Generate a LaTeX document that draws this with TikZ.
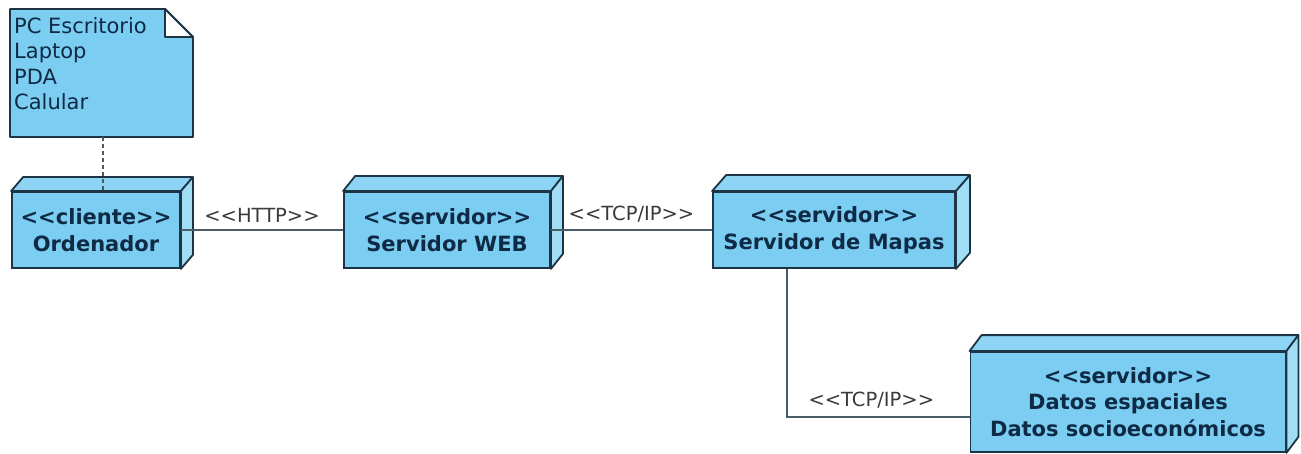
\documentclass[tikz,border=0pt]{standalone}
\usepackage{fontspec}
\setmainfont{DejaVu Sans}[Ligatures=TeXOff]
\usetikzlibrary{calc,backgrounds}

\definecolor{nodefront}{HTML}{7CCDF2}
\definecolor{nodetop}{HTML}{8ED4F4}
\definecolor{nodeside}{HTML}{A2DDF6}
\definecolor{edgeline}{HTML}{1C3444}
\definecolor{nodetext}{HTML}{0E2A44}
\definecolor{labeltext}{HTML}{3A3A3A}

\tikzset{
  devbox/.style={draw=edgeline, fill=nodefront, line width=1.8pt,
    align=center, inner sep=0pt, text=nodetext,
    font=\fontsize{21}{26.5}\selectfont\bfseries},
  devface/.style={draw=edgeline, line width=1.8pt, line join=round},
  notebox/.style={anchor=north west, align=left, inner sep=0pt,
    text=nodetext, font=\fontsize{21}{25.5}\selectfont},
  link/.style={draw=edgeline!80, line width=1.1pt},
  linklabel/.style={text=labeltext, font=\fontsize{19.5}{23}\selectfont, inner sep=2pt},
}

% draws the top and right faces of a 3D device node
\newcommand{\devdepth}[3]{%
  \path[devface, fill=nodetop] (#1.north west) -- ++(#2,-#3)
    -- ($(#1.north east)+(#2,-#3)$) -- (#1.north east) -- cycle;
  \path[devface, fill=nodeside] (#1.north east) -- ++(#2,-#3)
    -- ($(#1.south east)+(#2,-#3)$) -- (#1.south east) -- cycle;
}

\begin{document}
\begin{tikzpicture}[x=1pt, y=-1pt]
  \useasboundingbox (0,0) rectangle (1301,454);

  % note with the client devices
  \node[notebox] (note) at (14,17)
    {PC Escritorio\\Laptop\\PDA\\Calular};
  \coordinate (nnw) at (10,9);
  \coordinate (nse) at (193,137);
  \begin{scope}[on background layer]
    \path[devface, fill=nodefront] (nnw) -- (165,9) -- (193,37) -- (nse)
      -- (10,137) -- cycle;
    \path[devface, fill=white] (165,9) -- (165,37) -- (193,37) -- cycle;
  \end{scope}
  \coordinate (notefoot) at (103,137);

  % deployment nodes
  \node[devbox, minimum width=168pt, minimum height=76pt] (ord) at (96,230)
    {<<cliente>>\\Ordenador};
  \node[devbox, minimum width=206pt, minimum height=76pt] (web) at (447,230)
    {<<servidor>>\\Servidor WEB};
  \node[devbox, minimum width=242pt, minimum height=76pt] (map) at (834,230)
    {<<servidor>>\\Servidor de Mapas};
  \node[devbox, minimum width=315pt, minimum height=100pt] (dat) at (1128,402)
    {<<servidor>>\\Datos espaciales\\Datos socioeconómicos};

  \devdepth{ord}{12}{14}
  \devdepth{web}{12}{15}
  \devdepth{map}{14}{16}
  \devdepth{dat}{12}{16}

  % connectors
  \draw[link, line width=1.4pt, dash pattern=on 4pt off 3pt] (notefoot) -- (notefoot |- ord.north);
  \draw[link] (ord.east) -- node[linklabel, above=5pt] {<<HTTP>>} (web.west);
  \draw[link] (web.east) -- node[linklabel, above=5pt] {<<TCP/IP>>} (map.west);
  \draw[link] ([xshift=-47pt]map.south) |- node[linklabel, pos=0.75, above=6pt, xshift=-7pt] {<<TCP/IP>>} ([yshift=-15pt]dat.west);
\end{tikzpicture}
\end{document}
